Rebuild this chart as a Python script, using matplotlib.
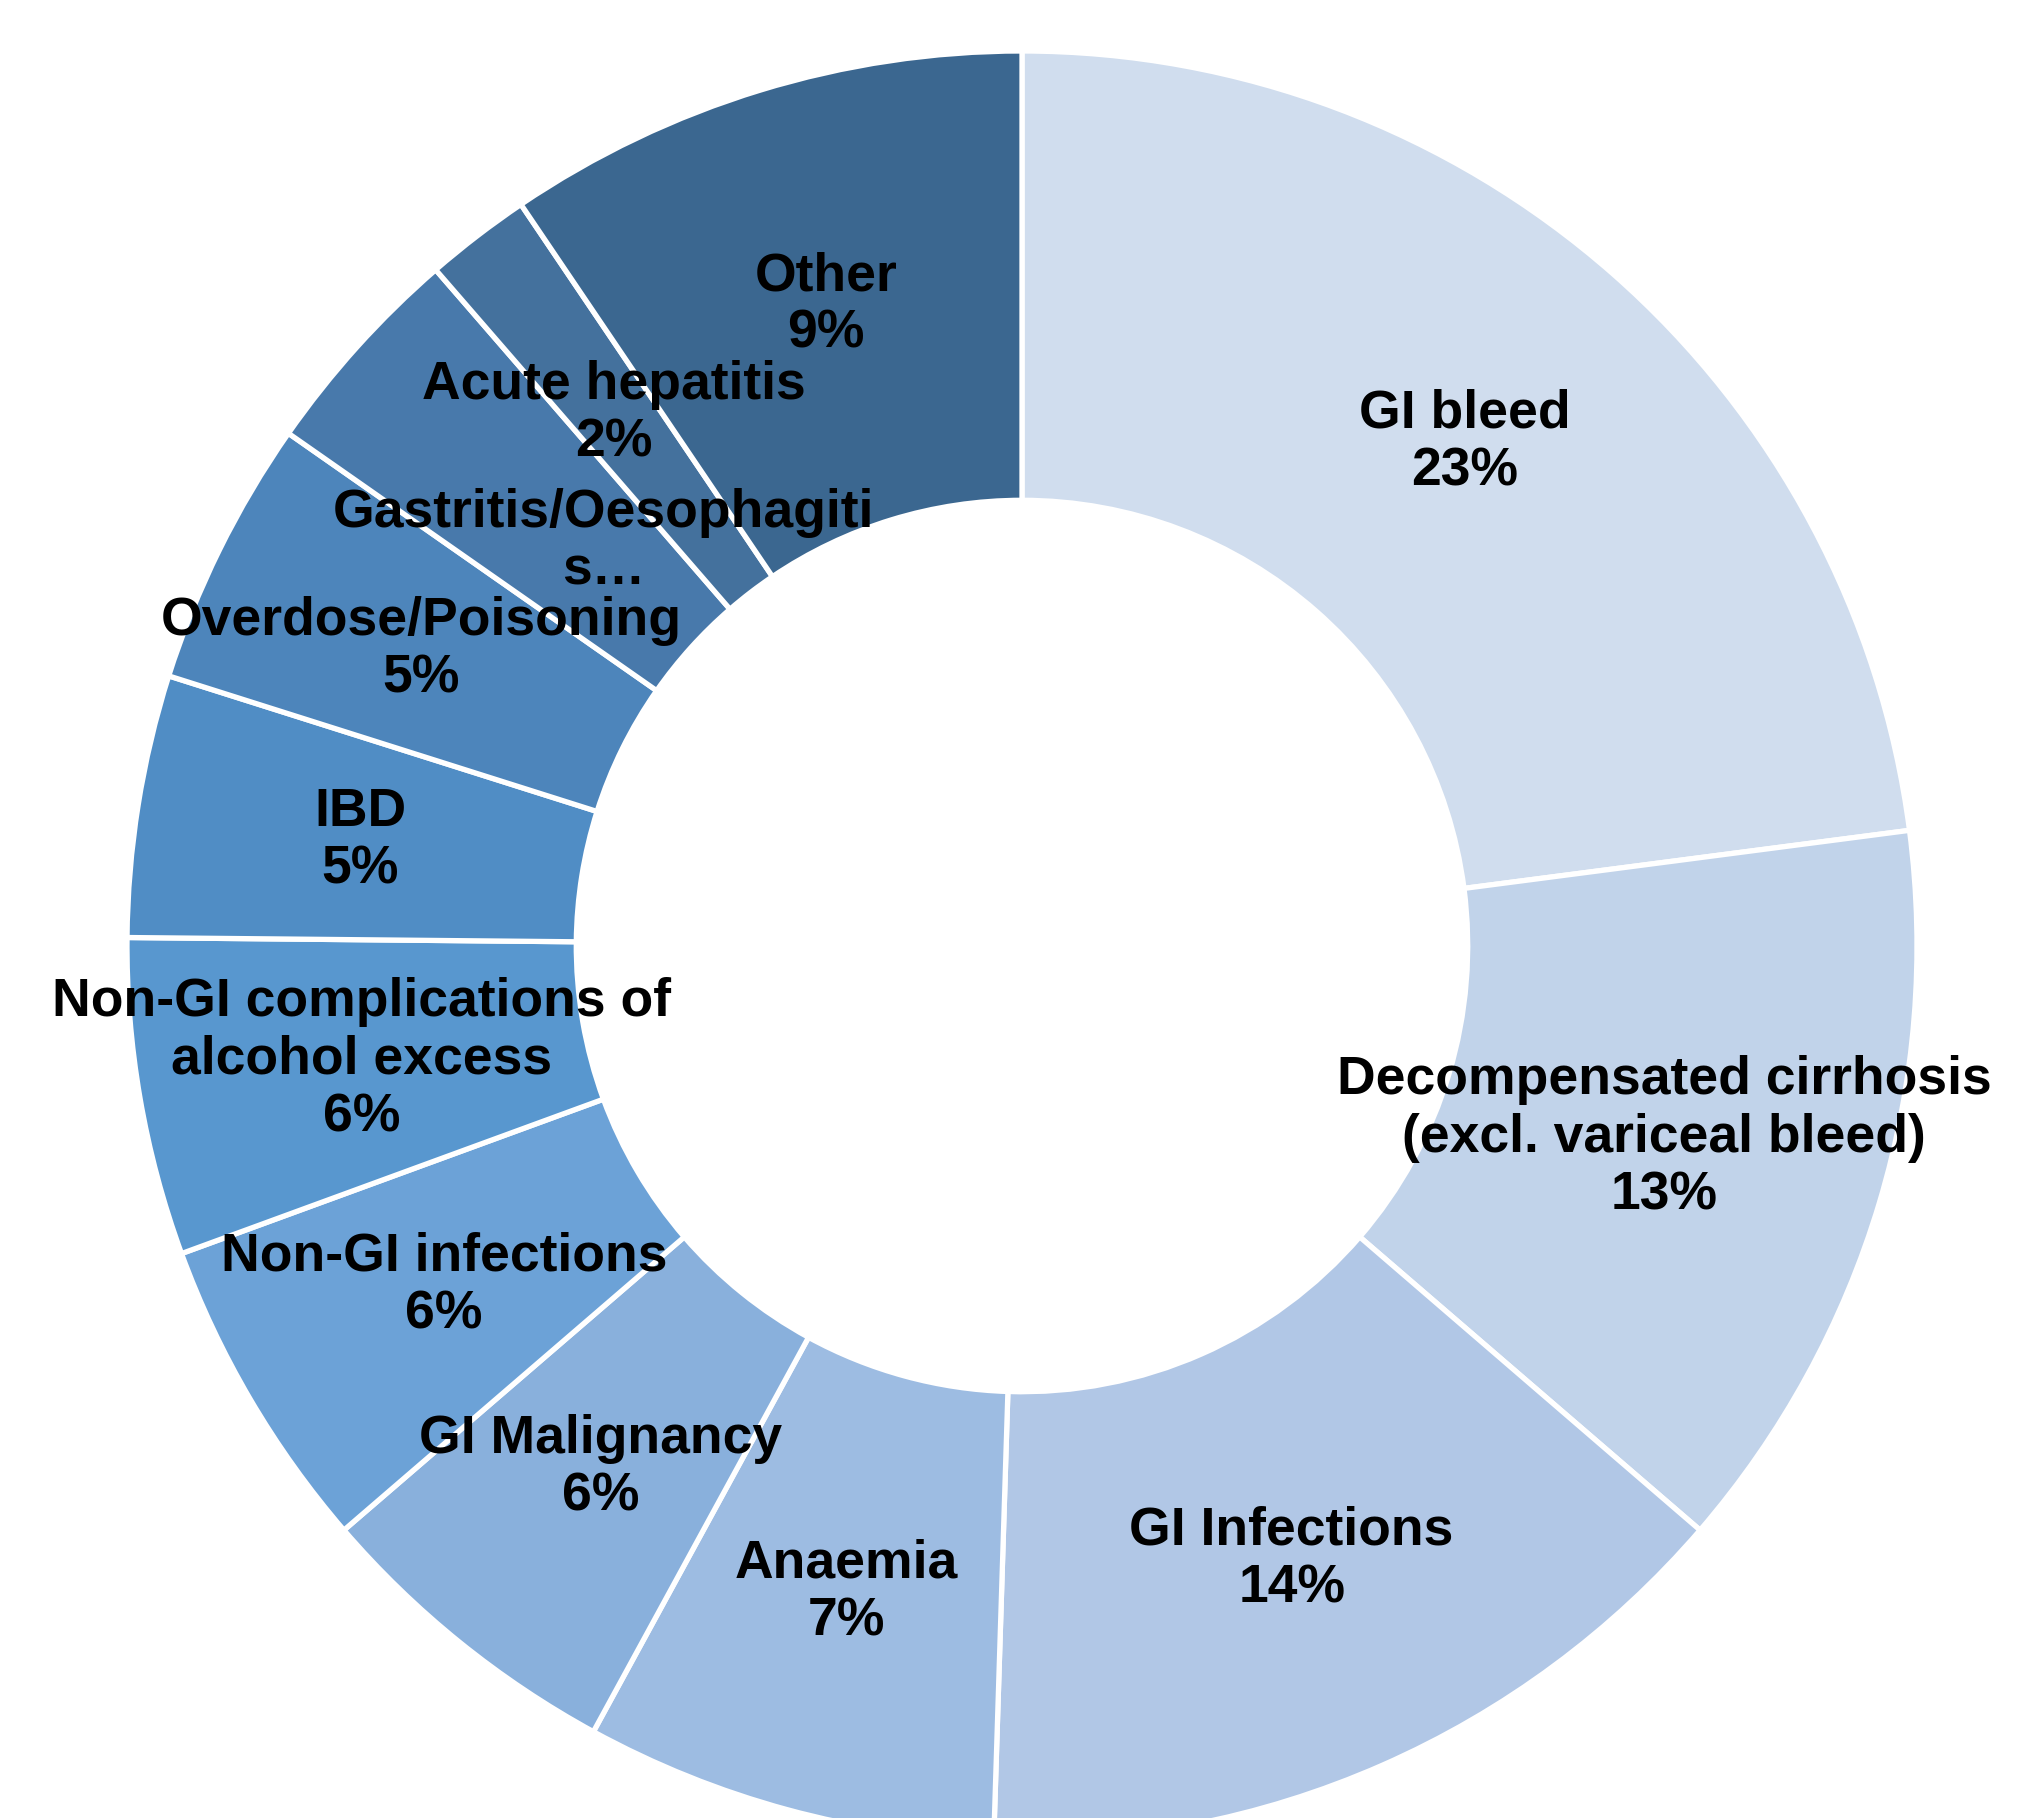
import numpy as np
import matplotlib
matplotlib.use("Agg")
import matplotlib.pyplot as plt

categories = ["GI bleed", "Decompensated cirrhosis\n(excl. variceal bleed)", "GI Infections",
              "Anaemia", "GI Malignancy", "Non-GI infections",
              "Non-GI complications of\nalcohol excess", "IBD", "Overdose/Poisoning",
              "Gastritis/Oesophagiti\ns…", "Acute hepatitis", "Other"]
values = [22.8, 13.3, 14.1, 7.4, 5.7, 5.7, 5.7, 4.7, 4.8, 3.9, 1.9, 9.4]
pct_labels = ["23%", "13%", "14%", "7%", "6%", "6%", "6%", "5%", "5%", None, "2%", "9%"]
colors = ["#d0ddee", "#c1d3ea", "#b1c7e6", "#9dbce2", "#89b0dc", "#6ca2d7",
          "#5897cf", "#508dc5", "#4d85bb", "#4879ab", "#44719d", "#3b6790"]

W, H = 2029, 1818
dpi = 100
fig = plt.figure(figsize=(W / dpi, H / dpi), dpi=dpi)
ax = fig.add_axes([0, 0, 1, 1])

R_px = 895.0
cx, cy = 1022.0, 946.0
width = 0.502

wedges, _ = ax.pie(values, colors=colors, startangle=90, counterclock=False, radius=1.0,
                   wedgeprops=dict(width=width, edgecolor="white", linewidth=3.8))

ax.set_xlim(-cx / R_px, (W - cx) / R_px)
ax.set_ylim(-(H - cy) / R_px, cy / R_px)
ax.set_aspect("auto")
ax.axis("off")

label_r = 0.749
for i, w in enumerate(wedges):
    ang = np.deg2rad((w.theta1 + w.theta2) / 2)
    r = label_r
    if pct_labels[i] is None:
        # label displaced (as in the source chart)
        ang = np.deg2rad(90 - 314)
        r = 0.65
        txt = categories[i]
    else:
        txt = categories[i] + "\n" + pct_labels[i]
    x, y = r * np.cos(ang), r * np.sin(ang)
    ax.text(x, y, txt, ha="center", va="center", fontsize=38.5, fontweight="bold",
            family=["Liberation Sans", "DejaVu Sans"], color="black", linespacing=1.2)

fig.savefig("out.png", dpi=dpi, facecolor="white")
